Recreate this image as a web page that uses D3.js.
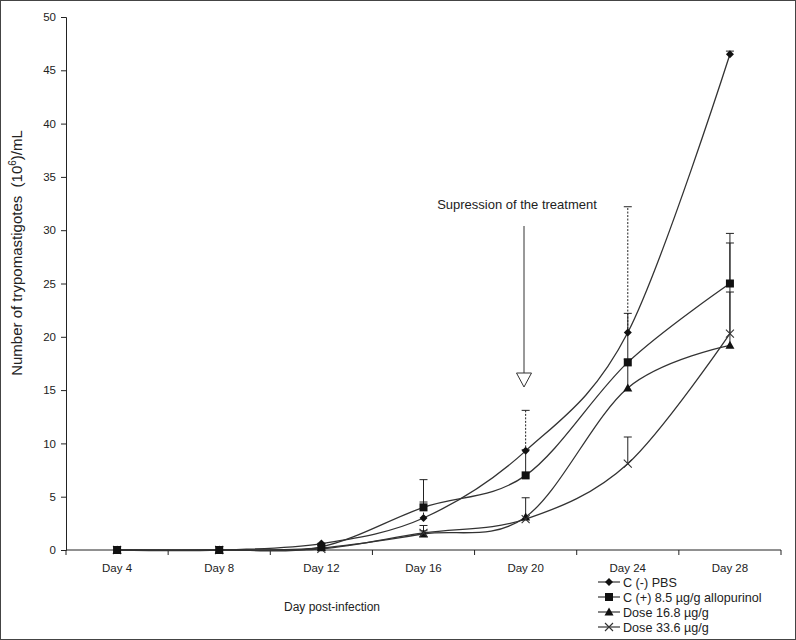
<!DOCTYPE html>
<html><head><meta charset="utf-8">
<script src="https://cdn.jsdelivr.net/npm/d3@7"></script>
<style>body{margin:0;background:#fff}svg{display:block}text{font-family:Arial,"Liberation Sans",sans-serif;fill:#222}</style>
</head><body><svg id="c" width="796" height="640"></svg>
<script>
const days = ["Day 4","Day 8","Day 12","Day 16","Day 20","Day 24","Day 28"];
const yTicks = [0,5,10,15,20,25,30,35,40,45,50];
const seriesNames = ["C (-) PBS","C (+) 8.5 µg/g allopurinol","Dose 16.8 µg/g","Dose 33.6 µg/g"];
const pbs      = [0,0,0.6,3.0,9.3,20.4,46.5];
const allop    = [0,0,0.3,4.0,7.0,17.6,25.0];
const dose168  = [0,0,0.2,1.5,3.1,15.2,19.2];
const dose336  = [0,0,0.1,1.6,2.9,8.1,20.3];
const pbsErr   = [0,0,0,1.5,3.8,11.8,0.3];
const allopErr = [0,0,0,2.6,2.4,4.6,4.7];
const d168Err  = [0,0,0,0.8,1.8,2.7,9.6];
const d336Err  = [0,0,0,0.2,0,2.5,3.9];
const markers = ["diamond","square","triangle","cross"];
const errDash = ["2,1.5",null,null,null];

const svg = d3.select("#c");
svg.append("rect").attr("x",0.5).attr("y",0.5).attr("width",795).attr("height",639)
  .attr("fill","#fff").attr("stroke","#444");

const x = d3.scaleBand().domain(days).range([66,781]).paddingInner(0).paddingOuter(0);
const y = d3.scaleLinear().domain([0,50]).range([550,17]);
const cx = d => x(d)+x.bandwidth()/2;

// y axis
const yAx = svg.append("g").attr("transform","translate(66,0)")
  .call(d3.axisLeft(y).tickValues(yTicks).tickSize(5).tickPadding(5));
yAx.select(".domain").attr("stroke","#222");
yAx.selectAll("line").attr("stroke","#222");
yAx.selectAll("text").style("font-size","11.5px").attr("fill","#333");

// x axis
const xAx = svg.append("g").attr("transform","translate(0,550)")
  .call(d3.axisBottom(x).tickSize(0).tickPadding(14));
xAx.select(".domain").attr("stroke","#222").attr("d","M66,0H781");
xAx.selectAll("text").style("font-size","11.5px").attr("fill","#333");
const bounds = days.map(d=>x(d)).concat([781]);
svg.append("g").selectAll("line").data(bounds).join("line")
  .attr("x1",d=>d).attr("x2",d=>d).attr("y1",550).attr("y2",555).attr("stroke","#222");

// titles
svg.append("text").attr("x",332).attr("y",611).attr("text-anchor","middle")
  .style("font-size","12px").text("Day post-infection");
const yt = svg.append("text").attr("transform","translate(21.5,253) rotate(-90)")
  .attr("text-anchor","middle").style("font-size","15px");
yt.append("tspan").text("Number of trypomastigotes\u00a0 (10");
yt.append("tspan").attr("dy",-6).style("font-size","10px").text("6");
yt.append("tspan").attr("dy",6).text(")/mL");

const data = [pbs,allop,dose168,dose336];
const errs = [pbsErr,allopErr,d168Err,d336Err];

// error bars
data.forEach((vals,si)=>{
  const g = svg.append("g");
  vals.forEach((v,i)=>{
    const e = errs[si][i];
    if(e<=0) return;
    const xx = cx(days[i]);
    g.append("line").attr("x1",xx).attr("x2",xx).attr("y1",y(v)).attr("y2",y(v+e))
      .attr("stroke","#222").attr("stroke-width",1).attr("stroke-dasharray",errDash[si]);
    g.append("line").attr("x1",xx-4).attr("x2",xx+4).attr("y1",y(v+e)).attr("y2",y(v+e))
      .attr("stroke","#222").attr("stroke-width",1);
  });
});

// lines
const line = d3.line().x((d,i)=>cx(days[i])).y(d=>y(d)).curve(d3.curveCardinal.tension(0));
data.forEach(vals=>{
  svg.append("path").attr("d",line(vals)).attr("fill","none")
    .attr("stroke","#333").attr("stroke-width",1.3);
});

function drawMarker(g,type,px,py){
  if(type==="diamond"){
    g.append("path").attr("d",`M${px},${py-4}L${px+4},${py}L${px},${py+4}L${px-4},${py}Z`).attr("fill","#111");
  } else if(type==="square"){
    g.append("rect").attr("x",px-4).attr("y",py-4).attr("width",8).attr("height",8).attr("fill","#111");
  } else if(type==="triangle"){
    g.append("path").attr("d",`M${px},${py-4.5}L${px+4.5},${py+3.5}L${px-4.5},${py+3.5}Z`).attr("fill","#111");
  } else {
    g.append("path").attr("d",`M${px-4},${py-4}L${px+4},${py+4}M${px-4},${py+4}L${px+4},${py-4}`)
      .attr("stroke","#333").attr("stroke-width",1.1).attr("fill","none");
  }
}
// markers (square drawn last so it shows on zero points)
[0,2,3,1].forEach(si=>{
  const g = svg.append("g");
  data[si].forEach((v,i)=>drawMarker(g,markers[si],cx(days[i]),y(v)));
});

// annotation
svg.append("text").attr("x",517).attr("y",209).attr("text-anchor","middle")
  .style("font-size","13px").text("Supression of the treatment");
svg.append("line").attr("x1",524).attr("x2",524).attr("y1",226).attr("y2",373).attr("stroke","#333");
svg.append("path").attr("d","M516.5,373L531.5,373L524,387Z").attr("fill","#fff").attr("stroke","#333");

// legend
const lg = svg.append("g");
seriesNames.forEach((n,i)=>{
  const yy = 582 + i*15;
  lg.append("line").attr("x1",598).attr("x2",620).attr("y1",yy).attr("y2",yy).attr("stroke","#333").attr("stroke-width",1.2);
  drawMarker(lg,markers[i],609,yy);
  lg.append("text").attr("x",623).attr("y",yy+4.5).style("font-size","12.6px").text(n);
});
</script></body></html>
